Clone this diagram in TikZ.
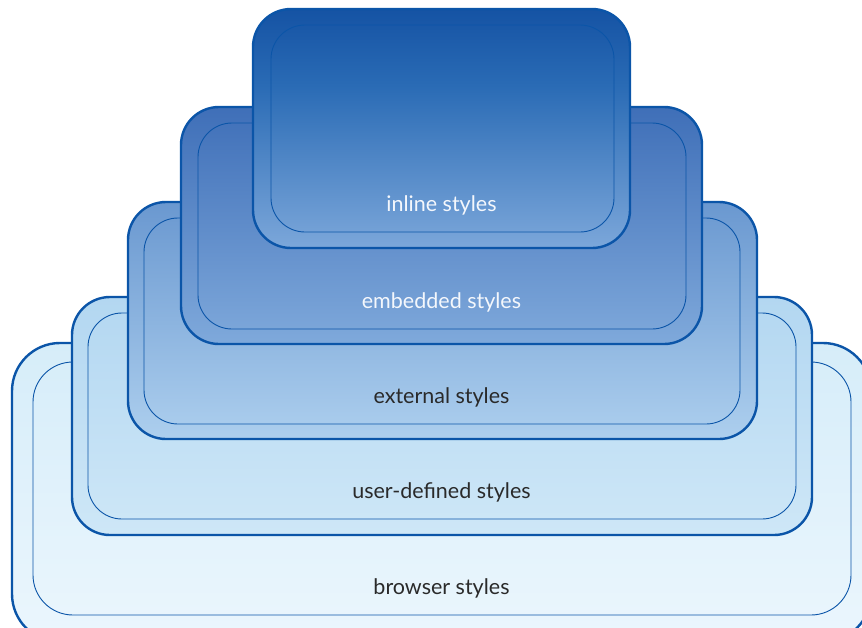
\documentclass[tikz,border=0pt]{standalone}
\usepackage{fontspec}
\setmainfont{Lato}
\definecolor{edge}{HTML}{0B55A8}
\definecolor{inT}{HTML}{1553A4}
\definecolor{inM}{HTML}{2A6BB5}
\definecolor{inB}{HTML}{7CA7DA}
\definecolor{emT}{HTML}{3F6FB8}
\definecolor{emB}{HTML}{7FA9DB}
\definecolor{exT}{HTML}{6A98D0}
\definecolor{exB}{HTML}{ADCFEE}
\definecolor{usT}{HTML}{B3D7F1}
\definecolor{usB}{HTML}{CEE7F7}
\definecolor{brT}{HTML}{D6EDF9}
\definecolor{brB}{HTML}{EBF6FD}
\definecolor{darktext}{HTML}{2A2A2A}
\definecolor{lighttext}{HTML}{F4F7FC}
% vertical fills: 25bp = bottom of the path, 75bp = top of the path
\pgfdeclareverticalshading{shInline}{100bp}{color(0bp)=(inB); color(25bp)=(inB); color(59bp)=(inM); color(75bp)=(inT); color(100bp)=(inT)}
\pgfdeclareverticalshading{shEmbedded}{100bp}{color(0bp)=(emB); color(25bp)=(emB); color(75bp)=(emT); color(100bp)=(emT)}
\pgfdeclareverticalshading{shExternal}{100bp}{color(0bp)=(exB); color(25bp)=(exB); color(75bp)=(exT); color(100bp)=(exT)}
\pgfdeclareverticalshading{shUser}{100bp}{color(0bp)=(usB); color(25bp)=(usB); color(75bp)=(usT); color(100bp)=(usT)}
\pgfdeclareverticalshading{shBrowser}{100bp}{color(0bp)=(brB); color(25bp)=(brB); color(75bp)=(brT); color(100bp)=(brT)}
\tikzset{
  outerbox/.style={draw=edge, line width=2.4pt, rounded corners=38pt},
  innerbox/.style={draw=edge, line width=0.9pt, rounded corners=34pt},
  lbl/.style={font=\fontsize{21.5}{25}\selectfont, text height=15pt, text depth=5pt, inner sep=0pt},
}
\begin{document}
\begin{tikzpicture}[x=1pt, y=-1pt]
  \useasboundingbox (0,0) rectangle (862,627);
  \clip (0,0) rectangle (862,627);
  % browser styles (runs past the right and bottom edges)
  \shade[shading=shBrowser, outerbox, rounded corners=48pt] (12,343) rectangle (871,642);
  \draw[innerbox, rounded corners=40pt] (33,362) rectangle (851,615);
  % user-defined styles
  \shade[shading=shUser, outerbox] (72,297) rectangle (812,535);
  \draw[innerbox] (88,313) rectangle (796,519);
  % external styles
  \shade[shading=shExternal, outerbox] (128,202) rectangle (757,439);
  \draw[innerbox] (144,218) rectangle (740,424);
  % embedded styles
  \shade[shading=shEmbedded, outerbox] (181,107) rectangle (702,344);
  \draw[innerbox] (198,123) rectangle (686,329);
  % inline styles
  \shade[shading=shInline, outerbox] (253,9) rectangle (630,248);
  \draw[innerbox] (271,25) rectangle (614,232);
  % labels
  \node[lbl, text=lighttext] (inl) at (441.5,206) {inline styles};
  \node[lbl, text=lighttext] (emb) at (441.5,303) {embedded styles};
  \node[lbl, text=darktext] (ext) at (441.5,398) {external styles};
  \node[lbl, text=darktext] (usr) at (441.5,493) {user-defined styles};
  \node[lbl, text=darktext] (brw) at (441.5,589) {browser styles};
\end{tikzpicture}
\end{document}
